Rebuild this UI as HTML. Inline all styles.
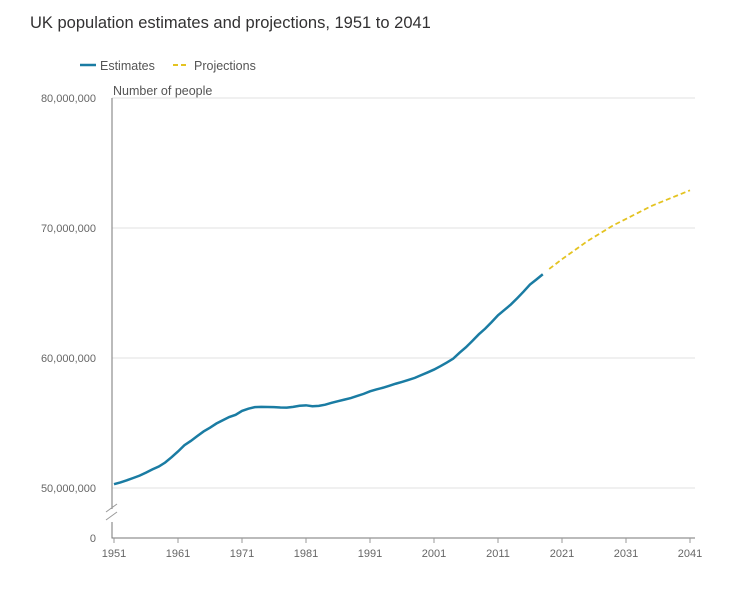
<!DOCTYPE html>
<html><head><meta charset="utf-8"><style>
body{margin:0;background:#fff;font-family:"Liberation Sans",sans-serif;}
svg text{font-family:"Liberation Sans",sans-serif;}
</style></head><body>
<svg width="742" height="585">
<text x="30" y="28" font-size="16.5" fill="#323132">UK population estimates and projections, 1951 to 2041</text>
<g>
<line x1="80" y1="65" x2="96" y2="65" stroke="#1a7ca3" stroke-width="2.5"/>
<text x="100" y="70" font-size="12.5" fill="#555">Estimates</text>
<line x1="173" y1="65" x2="189" y2="65" stroke="#e4c321" stroke-width="2" stroke-dasharray="5,3"/>
<text x="194" y="70" font-size="12.5" fill="#555">Projections</text>
</g>
<text x="113" y="95" font-size="12.5" fill="#555">Number of people</text>
<g id="grid"></g><g id="axes"></g><g id="series"></g>
</svg>
<script>
const years=[1951,1952,1953,1954,1955,1956,1957,1958,1959,1960,1961,1962,1963,1964,1965,1966,1967,1968,1969,1970,1971,1972,1973,1974,1975,1976,1977,1978,1979,1980,1981,1982,1983,1984,1985,1986,1987,1988,1989,1990,1991,1992,1993,1994,1995,1996,1997,1998,1999,2000,2001,2002,2003,2004,2005,2006,2007,2008,2009,2010,2011,2012,2013,2014,2015,2016,2017,2018];
const estimates=[50.29,50.43,50.59,50.77,50.95,51.18,51.43,51.65,51.96,52.37,52.81,53.29,53.62,53.99,54.35,54.64,54.96,55.21,55.46,55.63,55.93,56.10,56.22,56.24,56.23,56.22,56.19,56.18,56.24,56.33,56.36,56.29,56.32,56.41,56.55,56.68,56.80,56.92,57.08,57.24,57.44,57.58,57.71,57.86,58.02,58.16,58.31,58.47,58.68,58.89,59.11,59.37,59.65,59.95,60.41,60.83,61.32,61.82,62.26,62.76,63.29,63.70,64.11,64.60,65.11,65.65,66.04,66.44];
const projYears=[2019,2021,2023,2025,2027,2029,2031,2033,2035,2037,2039,2041];
const projections=[66.85,67.6,68.3,69.0,69.6,70.2,70.7,71.2,71.7,72.1,72.5,72.9];
const xTicks=[1951,1961,1971,1981,1991,2001,2011,2021,2031,2041];
const yTicks=[50,60,70,80];
const yTickLabels=["50,000,000","60,000,000","70,000,000","80,000,000"];
const NS="http://www.w3.org/2000/svg";
const x=y=>114+(y-1951)*576/90;
const yv=v=>488-(v-50)*13;
function mk(tag,attrs,parent){const e=document.createElementNS(NS,tag);for(const k in attrs)e.setAttribute(k,attrs[k]);document.getElementById(parent).appendChild(e);return e;}
yTicks.forEach((t,i)=>{
 const g=mk('line',{x1:112,x2:695,y1:yv(t),y2:yv(t),stroke:'#e2e2e2'},'grid');
 
 
 const l=mk('text',{x:96,y:yv(t)+4,'text-anchor':'end','font-size':11,fill:'#666'},'axes');
 l.textContent=yTickLabels[i];
 
 
});
const z=mk('text',{x:96,y:542,'text-anchor':'end','font-size':11,fill:'#666'},'axes');z.textContent='0';


const ax=mk('path',{d:'M112,98 V509 M112,522 V538 H695',stroke:'#777',fill:'none'},'axes');


const br=mk('path',{d:'M106,512 L117,504 M106,520 L117,512',stroke:'#999',fill:'none'},'axes');


xTicks.forEach(t=>{
 mk('line',{x1:x(t),x2:x(t),y1:538,y2:543,stroke:'#999'},'axes');
 const l=mk('text',{x:x(t),y:557,'text-anchor':'middle','font-size':11,fill:'#666'},'axes');
 l.textContent=t;
 
 
});
const e=mk('polyline',{points:years.map((y,i)=>x(y)+','+yv(estimates[i])).join(' '),fill:'none',stroke:'#1a7ca3','stroke-width':2.5},'series');


const p=mk('polyline',{points:projYears.map((y,i)=>x(y)+','+yv(projections[i])).join(' '),fill:'none',stroke:'#e4c321','stroke-width':1.8,'stroke-dasharray':'5,3'},'series');


</script>
</body></html>
